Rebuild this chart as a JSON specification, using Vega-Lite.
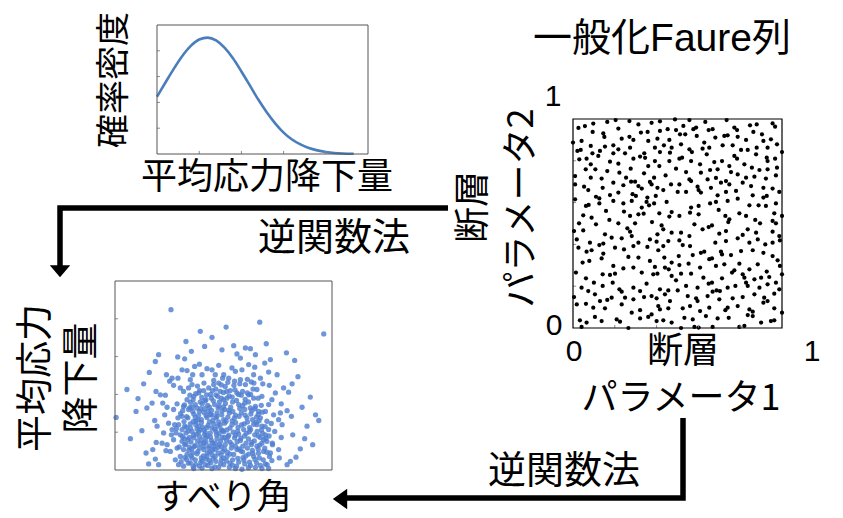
{
  "$schema": "https://vega.github.io/schema/vega-lite/v6.json",
  "width": 843,
  "height": 518,
  "autosize": {"type": "none"},
  "padding": 0,
  "background": "white",
  "config": {"view": {"stroke": null}},
  "datasets": {
    "density": [
      {"drop": 0, "density": 2.22}, {"drop": 0.2, "density": 2.77}, {"drop": 0.4, "density": 3.31}, {"drop": 0.6, "density": 3.8},
      {"drop": 0.8, "density": 4.19}, {"drop": 1.0, "density": 4.44}, {"drop": 1.2, "density": 4.51}, {"drop": 1.4, "density": 4.4},
      {"drop": 1.6, "density": 4.12}, {"drop": 1.8, "density": 3.71}, {"drop": 2.0, "density": 3.2}, {"drop": 2.2, "density": 2.66},
      {"drop": 2.4, "density": 2.11}, {"drop": 2.6, "density": 1.62}, {"drop": 2.8, "density": 1.19}, {"drop": 3.0, "density": 0.83},
      {"drop": 3.2, "density": 0.56}, {"drop": 3.4, "density": 0.37}, {"drop": 3.6, "density": 0.23}, {"drop": 3.8, "density": 0.14},
      {"drop": 4.0, "density": 0.08}, {"drop": 4.2, "density": 0.04}, {"drop": 4.4, "density": 0.02}, {"drop": 4.66, "density": 0.01}
    ],
    "ticks5": [{"t": 1}, {"t": 2}, {"t": 3}, {"t": 4}],
    "ticks1": [{"t": 0.2}, {"t": 0.4}, {"t": 0.6}, {"t": 0.8}],
    "faure": [
      {"p1":0.204,"p2":0.995},{"p1":0.27,"p2":0.99},{"p1":0.376,"p2":0.982},{"p1":0.416,"p2":0.989},{"p1":0.164,"p2":0.986},{"p1":0.097,"p2":0.978},{"p1":0.057,"p2":0.966},{"p1":0.026,"p2":0.957},{"p1":0.313,"p2":0.974},{"p1":0.488,"p2":0.998},
      {"p1":0.217,"p2":0.954},{"p1":0.094,"p2":0.938},{"p1":0.145,"p2":0.931},{"p1":0.15,"p2":0.914},{"p1":0.325,"p2":0.935},{"p1":0.357,"p2":0.938},{"p1":0.416,"p2":0.943},{"p1":0.453,"p2":0.951},{"p1":0.493,"p2":0.947},{"p1":0.233,"p2":0.906},
      {"p1":0.27,"p2":0.915},{"p1":0.041,"p2":0.895},{"p1":0.0,"p2":0.887},{"p1":0.085,"p2":0.871},{"p1":0.153,"p2":0.868},{"p1":0.193,"p2":0.874},{"p1":0.289,"p2":0.9},{"p1":0.36,"p2":0.895},{"p1":0.404,"p2":0.906},{"p1":0.461,"p2":0.9},
      {"p1":0.435,"p2":0.874},{"p1":0.021,"p2":0.847},{"p1":0.037,"p2":0.852},{"p1":0.129,"p2":0.847},{"p1":0.217,"p2":0.855},{"p1":0.273,"p2":0.863},{"p1":0.392,"p2":0.863},{"p1":0.416,"p2":0.842},{"p1":0.472,"p2":0.863},{"p1":0.093,"p2":0.836},
      {"p1":0.193,"p2":0.836},{"p1":0.249,"p2":0.836},{"p1":0.341,"p2":0.836},{"p1":0.464,"p2":0.839},{"p1":0.03,"p2":0.807},{"p1":0.065,"p2":0.81},{"p1":0.121,"p2":0.823},{"p1":0.177,"p2":0.796},{"p1":0.289,"p2":0.81},{"p1":0.321,"p2":0.82},
      {"p1":0.345,"p2":0.814},{"p1":0.392,"p2":0.799},{"p1":0.461,"p2":0.799},{"p1":0.085,"p2":0.783},{"p1":0.217,"p2":0.786},{"p1":0.276,"p2":0.762},{"p1":0.36,"p2":0.775},{"p1":0.413,"p2":0.775},{"p1":0.01,"p2":0.727},{"p1":0.061,"p2":0.759},
      {"p1":0.107,"p2":0.759},{"p1":0.164,"p2":0.751},{"p1":0.222,"p2":0.743},{"p1":0.254,"p2":0.719},{"p1":0.34,"p2":0.74},{"p1":0.388,"p2":0.719},{"p1":0.443,"p2":0.73},{"p1":0.085,"p2":0.719},{"p1":0.137,"p2":0.715},{"p1":0.193,"p2":0.695},
      {"p1":0.278,"p2":0.7},{"p1":0.297,"p2":0.7},{"p1":0.368,"p2":0.699},{"p1":0.01,"p2":0.687},{"p1":0.053,"p2":0.676},{"p1":0.142,"p2":0.671},{"p1":0.241,"p2":0.683},{"p1":0.313,"p2":0.679},{"p1":0.376,"p2":0.687},{"p1":0.404,"p2":0.671},
      {"p1":0.469,"p2":0.687},{"p1":0.073,"p2":0.66},{"p1":0.177,"p2":0.636},{"p1":0.11,"p2":0.628},{"p1":0.126,"p2":0.62},{"p1":0.217,"p2":0.648},{"p1":0.285,"p2":0.64},{"p1":0.329,"p2":0.667},{"p1":0.432,"p2":0.66},{"p1":0.01,"p2":0.616},
      {"p1":0.241,"p2":0.596},{"p1":0.301,"p2":0.632},{"p1":0.356,"p2":0.624},{"p1":0.396,"p2":0.632},{"p1":0.448,"p2":0.603},{"p1":0.062,"p2":0.584},{"p1":0.075,"p2":0.589},{"p1":0.126,"p2":0.596},{"p1":0.193,"p2":0.608},{"p1":0.281,"p2":0.608},
      {"p1":0.352,"p2":0.603},{"p1":0.388,"p2":0.596},{"p1":0.158,"p2":0.56},{"p1":0.244,"p2":0.557},{"p1":0.329,"p2":0.576},{"p1":0.364,"p2":0.587},{"p1":0.413,"p2":0.549},{"p1":0.472,"p2":0.555},{"p1":0.049,"p2":0.539},{"p1":0.089,"p2":0.528},
      {"p1":0.174,"p2":0.517},{"p1":0.273,"p2":0.536},{"p1":0.313,"p2":0.544},{"p1":0.338,"p2":0.547},{"p1":0.461,"p2":0.533},{"p1":0.029,"p2":0.501},{"p1":0.11,"p2":0.496},{"p1":0.217,"p2":0.501},{"p1":0.297,"p2":0.501},{"p1":0.378,"p2":0.507},
      {"p1":0.424,"p2":0.491},
      {"p1":0.557,"p2":0.995},{"p1":0.633,"p2":0.986},{"p1":0.735,"p2":0.995},{"p1":0.955,"p2":0.979},{"p1":0.528,"p2":0.967},{"p1":0.589,"p2":0.959},{"p1":0.576,"p2":0.951},{"p1":0.649,"p2":0.947},{"p1":0.668,"p2":0.951},{"p1":0.772,"p2":0.959},
      {"p1":0.785,"p2":0.947},{"p1":0.847,"p2":0.97},{"p1":0.879,"p2":0.974},{"p1":0.967,"p2":0.963},{"p1":0.512,"p2":0.927},{"p1":0.537,"p2":0.927},{"p1":0.592,"p2":0.919},{"p1":0.724,"p2":0.919},{"p1":0.74,"p2":0.922},{"p1":0.788,"p2":0.915},
      {"p1":0.863,"p2":0.938},{"p1":0.904,"p2":0.927},{"p1":0.681,"p2":0.911},{"p1":0.828,"p2":0.9},{"p1":0.911,"p2":0.895},{"p1":0.947,"p2":0.903},{"p1":0.976,"p2":0.879},{"p1":0.517,"p2":0.879},{"p1":0.628,"p2":0.887},{"p1":0.652,"p2":0.863},
      {"p1":0.716,"p2":0.874},{"p1":0.764,"p2":0.874},{"p1":0.557,"p2":0.855},{"p1":0.569,"p2":0.842},{"p1":0.62,"p2":0.858},{"p1":0.804,"p2":0.852},{"p1":0.836,"p2":0.852},{"p1":0.879,"p2":0.863},{"p1":0.931,"p2":0.863},{"p1":0.64,"p2":0.831},
      {"p1":0.772,"p2":0.823},{"p1":0.785,"p2":0.81},{"p1":0.509,"p2":0.81},{"p1":0.522,"p2":0.815},{"p1":0.876,"p2":0.831},{"p1":1.0,"p2":0.842},{"p1":0.565,"p2":0.799},{"p1":0.676,"p2":0.794},{"p1":0.713,"p2":0.799},{"p1":0.748,"p2":0.775},
      {"p1":0.82,"p2":0.783},{"p1":0.856,"p2":0.767},{"p1":0.927,"p2":0.815},{"p1":0.931,"p2":0.799},{"p1":0.967,"p2":0.81},{"p1":0.493,"p2":0.762},{"p1":0.541,"p2":0.746},{"p1":0.608,"p2":0.783},{"p1":0.656,"p2":0.756},{"p1":0.692,"p2":0.759},
      {"p1":0.892,"p2":0.756},{"p1":0.931,"p2":0.759},{"p1":0.976,"p2":0.767},{"p1":0.557,"p2":0.711},{"p1":0.565,"p2":0.703},{"p1":0.612,"p2":0.743},{"p1":0.644,"p2":0.711},{"p1":0.684,"p2":0.718},{"p1":0.756,"p2":0.746},{"p1":0.788,"p2":0.735},
      {"p1":0.732,"p2":0.703},{"p1":0.828,"p2":0.719},{"p1":0.868,"p2":0.724},{"p1":0.923,"p2":0.715},{"p1":0.971,"p2":0.73},{"p1":0.509,"p2":0.687},{"p1":0.596,"p2":0.676},{"p1":0.601,"p2":0.66},{"p1":0.66,"p2":0.671},{"p1":0.708,"p2":0.695},
      {"p1":0.748,"p2":0.687},{"p1":0.812,"p2":0.695},{"p1":0.852,"p2":0.679},{"p1":0.911,"p2":0.671},{"p1":0.955,"p2":0.667},{"p1":0.501,"p2":0.651},{"p1":0.541,"p2":0.651},{"p1":0.612,"p2":0.648},{"p1":0.692,"p2":0.635},{"p1":0.732,"p2":0.651},
      {"p1":0.78,"p2":0.656},{"p1":0.86,"p2":0.635},{"p1":0.911,"p2":0.624},{"p1":0.927,"p2":0.632},{"p1":0.987,"p2":0.651},{"p1":0.565,"p2":0.576},{"p1":0.601,"p2":0.584},{"p1":0.656,"p2":0.596},{"p1":0.684,"p2":0.603},{"p1":0.74,"p2":0.608},
      {"p1":0.788,"p2":0.619},{"p1":0.844,"p2":0.587},{"p1":0.888,"p2":0.587},{"p1":0.923,"p2":0.584},{"p1":0.971,"p2":0.596},{"p1":0.509,"p2":0.536},{"p1":0.56,"p2":0.552},{"p1":0.601,"p2":0.544},{"p1":0.697,"p2":0.565},{"p1":0.729,"p2":0.536},
      {"p1":0.748,"p2":0.52},{"p1":0.796,"p2":0.549},{"p1":0.828,"p2":0.536},{"p1":0.872,"p2":0.517},{"p1":0.963,"p2":0.549},{"p1":0.955,"p2":0.512},{"p1":1.0,"p2":0.536},{"p1":0.581,"p2":0.496},{"p1":0.665,"p2":0.491},{"p1":0.743,"p2":0.507},
      {"p1":0.895,"p2":0.501},{"p1":0.971,"p2":0.501},
      {"p1":0.005,"p2":0.464},{"p1":0.049,"p2":0.467},{"p1":0.153,"p2":0.448},{"p1":0.26,"p2":0.477},{"p1":0.273,"p2":0.461},{"p1":0.404,"p2":0.448},{"p1":0.432,"p2":0.472},{"p1":0.472,"p2":0.456},{"p1":0.018,"p2":0.424},{"p1":0.081,"p2":0.408},
      {"p1":0.126,"p2":0.397},{"p1":0.145,"p2":0.404},{"p1":0.185,"p2":0.432},{"p1":0.233,"p2":0.429},{"p1":0.281,"p2":0.44},{"p1":0.313,"p2":0.408},{"p1":0.368,"p2":0.424},{"p1":0.4,"p2":0.413},{"p1":0.456,"p2":0.416},{"p1":0.026,"p2":0.384},
      {"p1":0.065,"p2":0.365},{"p1":0.089,"p2":0.372},{"p1":0.145,"p2":0.356},{"p1":0.201,"p2":0.384},{"p1":0.244,"p2":0.376},{"p1":0.289,"p2":0.392},{"p1":0.356,"p2":0.388},{"p1":0.408,"p2":0.372},{"p1":0.432,"p2":0.392},{"p1":0.046,"p2":0.313},
      {"p1":0.078,"p2":0.321},{"p1":0.137,"p2":0.333},{"p1":0.193,"p2":0.297},{"p1":0.265,"p2":0.34},{"p1":0.313,"p2":0.337},{"p1":0.368,"p2":0.321},{"p1":0.437,"p2":0.337},{"p1":0.472,"p2":0.313},{"p1":0.392,"p2":0.292},{"p1":0.44,"p2":0.289},
      {"p1":0.458,"p2":0.281},{"p1":0.014,"p2":0.265},{"p1":0.062,"p2":0.238},{"p1":0.1,"p2":0.217},{"p1":0.142,"p2":0.257},{"p1":0.177,"p2":0.254},{"p1":0.201,"p2":0.26},{"p1":0.241,"p2":0.285},{"p1":0.289,"p2":0.289},{"p1":0.329,"p2":0.265},
      {"p1":0.384,"p2":0.257},{"p1":0.404,"p2":0.26},{"p1":0.472,"p2":0.249},{"p1":0.041,"p2":0.193},{"p1":0.073,"p2":0.177},{"p1":0.142,"p2":0.201},{"p1":0.19,"p2":0.217},{"p1":0.222,"p2":0.185},{"p1":0.233,"p2":0.174},{"p1":0.289,"p2":0.193},
      {"p1":0.321,"p2":0.177},{"p1":0.352,"p2":0.212},{"p1":0.416,"p2":0.185},{"p1":0.456,"p2":0.18},{"p1":0.005,"p2":0.148},{"p1":0.105,"p2":0.161},{"p1":0.164,"p2":0.134},{"p1":0.185,"p2":0.145},{"p1":0.249,"p2":0.145},{"p1":0.289,"p2":0.137},
      {"p1":0.34,"p2":0.148},{"p1":0.376,"p2":0.153},{"p1":0.4,"p2":0.142},{"p1":0.44,"p2":0.161},{"p1":0.464,"p2":0.129},{"p1":0.018,"p2":0.113},{"p1":0.062,"p2":0.116},{"p1":0.097,"p2":0.097},{"p1":0.129,"p2":0.129},{"p1":0.153,"p2":0.094},
      {"p1":0.233,"p2":0.113},{"p1":0.281,"p2":0.073},{"p1":0.321,"p2":0.085},{"p1":0.376,"p2":0.065},{"p1":0.408,"p2":0.105},{"p1":0.416,"p2":0.089},{"p1":0.456,"p2":0.094},{"p1":0.033,"p2":0.037},{"p1":0.065,"p2":0.026},{"p1":0.105,"p2":0.053},
      {"p1":0.137,"p2":0.033},{"p1":0.209,"p2":0.041},{"p1":0.225,"p2":0.03},{"p1":0.321,"p2":0.046},{"p1":0.36,"p2":0.053},{"p1":0.4,"p2":0.033},{"p1":0.432,"p2":0.037},{"p1":0.472,"p2":0.026},{"p1":0.041,"p2":0.005},{"p1":0.265,"p2":0.0},
      {"p1":0.649,"p2":0.483},{"p1":0.517,"p2":0.456},{"p1":0.557,"p2":0.44},{"p1":0.62,"p2":0.472},{"p1":0.7,"p2":0.451},{"p1":0.732,"p2":0.464},{"p1":0.812,"p2":0.445},{"p1":0.836,"p2":0.472},{"p1":0.876,"p2":0.456},{"p1":0.955,"p2":0.461},
      {"p1":0.987,"p2":0.44},{"p1":0.509,"p2":0.419},{"p1":0.525,"p2":0.397},{"p1":0.56,"p2":0.392},{"p1":0.612,"p2":0.36},{"p1":0.628,"p2":0.365},{"p1":0.681,"p2":0.408},{"p1":0.732,"p2":0.416},{"p1":0.788,"p2":0.429},{"p1":0.844,"p2":0.408},
      {"p1":0.884,"p2":0.424},{"p1":0.92,"p2":0.4},{"p1":0.955,"p2":0.408},{"p1":0.99,"p2":0.419},{"p1":0.506,"p2":0.344},{"p1":0.573,"p2":0.349},{"p1":0.652,"p2":0.329},{"p1":0.665,"p2":0.333},{"p1":0.708,"p2":0.365},{"p1":0.713,"p2":0.352},
      {"p1":0.756,"p2":0.349},{"p1":0.804,"p2":0.368},{"p1":0.86,"p2":0.372},{"p1":0.911,"p2":0.36},{"p1":0.955,"p2":0.344},{"p1":0.979,"p2":0.324},{"p1":0.509,"p2":0.301},{"p1":0.553,"p2":0.308},{"p1":0.608,"p2":0.289},{"p1":0.684,"p2":0.297},
      {"p1":0.724,"p2":0.305},{"p1":0.772,"p2":0.276},{"p1":0.796,"p2":0.308},{"p1":0.844,"p2":0.281},{"p1":0.884,"p2":0.305},{"p1":0.927,"p2":0.27},{"p1":0.99,"p2":0.297},{"p1":0.517,"p2":0.26},{"p1":0.565,"p2":0.26},{"p1":0.624,"p2":0.241},
      {"p1":0.649,"p2":0.212},{"p1":0.665,"p2":0.217},{"p1":0.713,"p2":0.238},{"p1":0.761,"p2":0.265},{"p1":0.812,"p2":0.257},{"p1":0.82,"p2":0.241},{"p1":0.868,"p2":0.233},{"p1":0.9,"p2":0.241},{"p1":0.939,"p2":0.244},{"p1":0.971,"p2":0.217},
      {"p1":1.0,"p2":0.257},{"p1":0.493,"p2":0.228},{"p1":0.541,"p2":0.201},{"p1":0.596,"p2":0.193},{"p1":0.668,"p2":0.174},{"p1":0.687,"p2":0.18},{"p1":0.703,"p2":0.177},{"p1":0.74,"p2":0.193},{"p1":0.777,"p2":0.201},{"p1":0.828,"p2":0.217},
      {"p1":0.836,"p2":0.201},{"p1":0.892,"p2":0.193},{"p1":0.931,"p2":0.209},{"p1":0.987,"p2":0.185},{"p1":0.501,"p2":0.18},{"p1":0.549,"p2":0.153},{"p1":0.589,"p2":0.142},{"p1":0.596,"p2":0.129},{"p1":0.644,"p2":0.153},{"p1":0.7,"p2":0.137},
      {"p1":0.764,"p2":0.142},{"p1":0.812,"p2":0.148},{"p1":0.868,"p2":0.161},{"p1":0.915,"p2":0.145},{"p1":0.963,"p2":0.164},{"p1":0.525,"p2":0.094},{"p1":0.56,"p2":0.105},{"p1":0.608,"p2":0.081},{"p1":0.652,"p2":0.097},{"p1":0.729,"p2":0.085},
      {"p1":0.74,"p2":0.097},{"p1":0.788,"p2":0.105},{"p1":0.844,"p2":0.089},{"p1":0.86,"p2":0.078},{"p1":0.911,"p2":0.121},{"p1":0.931,"p2":0.129},{"p1":0.963,"p2":0.094},{"p1":1.0,"p2":0.073},{"p1":0.533,"p2":0.049},{"p1":0.573,"p2":0.041},
      {"p1":0.636,"p2":0.057},{"p1":0.692,"p2":0.046},{"p1":0.745,"p2":0.049},{"p1":0.836,"p2":0.062},{"p1":0.86,"p2":0.057},{"p1":0.9,"p2":0.026},{"p1":0.947,"p2":0.033},{"p1":0.963,"p2":0.037},{"p1":0.517,"p2":0.0},{"p1":0.581,"p2":0.005},
      {"p1":0.601,"p2":0.002},{"p1":0.668,"p2":0.005},{"p1":0.796,"p2":0.005},{"p1":0.82,"p2":0.01}
    ],
    "scatter": [
      {"slip":0.258,"drop":4.24},{"slip":0.393,"drop":3.67},{"slip":0.327,"drop":3.4},{"slip":0.447,"drop":3.51},{"slip":0.352,"drop":3.14},{"slip":0.413,"drop":3.27},{"slip":0.289,"drop":2.99},{"slip":0.321,"drop":2.94},{"slip":0.201,"drop":3.05},{"slip":0.186,"drop":2.87},
      {"slip":0.158,"drop":2.58},{"slip":0.237,"drop":2.52},{"slip":0.367,"drop":2.74},{"slip":0.389,"drop":2.8},{"slip":0.055,"drop":2.13},{"slip":0.132,"drop":2.28},{"slip":0.106,"drop":1.89},{"slip":0.171,"drop":1.77},{"slip":0.147,"drop":1.64},{"slip":0.097,"drop":1.55},
      {"slip":0.005,"drop":1.39},{"slip":0.189,"drop":2.08},{"slip":0.209,"drop":1.99},{"slip":0.232,"drop":1.98},{"slip":0.252,"drop":2.35},{"slip":0.27,"drop":2.24},{"slip":0.263,"drop":2.43},{"slip":0.29,"drop":2.43},{"slip":0.309,"drop":2.65},{"slip":0.332,"drop":2.63},
      {"slip":0.347,"drop":2.39},{"slip":0.358,"drop":2.52},{"slip":0.301,"drop":2.17},{"slip":0.316,"drop":2.08},{"slip":0.339,"drop":2.17},{"slip":0.355,"drop":2.26},{"slip":0.401,"drop":2.52},{"slip":0.424,"drop":2.68},{"slip":0.447,"drop":2.65},{"slip":0.462,"drop":2.52},
      {"slip":0.478,"drop":2.77},{"slip":0.493,"drop":3.18},{"slip":0.124,"drop":1.04},{"slip":0.071,"drop":0.83},{"slip":0.194,"drop":1.16},{"slip":0.183,"drop":1.31},{"slip":0.224,"drop":0.98},{"slip":0.143,"drop":0.45},{"slip":0.174,"drop":0.54},{"slip":0.19,"drop":0.73},
      {"slip":0.217,"drop":0.71},{"slip":0.235,"drop":0.51},{"slip":0.155,"drop":0.16},{"slip":0.186,"drop":0.29},{"slip":0.201,"drop":0.14},{"slip":0.229,"drop":1.46},{"slip":0.24,"drop":1.66},{"slip":0.22,"drop":1.77},{"slip":0.27,"drop":1.6},{"slip":0.286,"drop":1.75},
      {"slip":0.316,"drop":1.68},{"slip":0.247,"drop":1.24},{"slip":0.263,"drop":1.07},{"slip":0.27,"drop":0.8},{"slip":0.278,"drop":0.27},{"slip":0.293,"drop":0.14},{"slip":0.301,"drop":0.36},{"slip":0.321,"drop":0.67},{"slip":0.347,"drop":0.19},{"slip":0.255,"drop":0.49},
      {"slip":0.286,"drop":0.58},
      {"slip":0.512,"drop":3.78},{"slip":0.667,"drop":3.91},{"slip":0.962,"drop":3.6},{"slip":0.697,"drop":3.34},{"slip":0.547,"drop":3.29},{"slip":0.601,"drop":3.23},{"slip":0.624,"drop":3.21},{"slip":0.647,"drop":3.05},{"slip":0.79,"drop":3.1},{"slip":0.562,"drop":3.07},
      {"slip":0.578,"drop":2.96},{"slip":0.716,"drop":2.92},{"slip":0.69,"drop":2.83},{"slip":0.828,"drop":2.9},{"slip":0.616,"drop":2.79},{"slip":0.644,"drop":2.72},{"slip":0.747,"drop":2.52},{"slip":0.708,"drop":2.59},{"slip":0.843,"drop":2.47},{"slip":0.816,"drop":2.28},
      {"slip":0.777,"drop":2.17},{"slip":0.8,"drop":2.06},{"slip":0.9,"drop":1.93},{"slip":0.766,"drop":1.75},{"slip":0.862,"drop":1.66},{"slip":0.793,"drop":1.57},{"slip":0.813,"drop":1.42},{"slip":0.924,"drop":1.46},{"slip":0.939,"drop":1.31},{"slip":0.885,"drop":1.16},
      {"slip":0.819,"drop":0.93},{"slip":0.874,"drop":0.83},{"slip":0.911,"drop":0.67},{"slip":0.854,"drop":0.56},{"slip":0.808,"drop":0.23},{"slip":0.793,"drop":0.14},{"slip":0.834,"drop":0.34},{"slip":0.757,"drop":0.32},{"slip":0.67,"drop":2.43},{"slip":0.681,"drop":2.28},
      {"slip":0.711,"drop":2.24},{"slip":0.739,"drop":2.04},{"slip":0.723,"drop":1.86},{"slip":0.762,"drop":1.51},{"slip":0.754,"drop":1.33},{"slip":0.77,"drop":1.2},{"slip":0.736,"drop":1.02},{"slip":0.766,"drop":0.86},{"slip":0.726,"drop":0.67},{"slip":0.754,"drop":0.54},
      {"slip":0.716,"drop":0.45},{"slip":0.693,"drop":0.16},{"slip":0.539,"drop":2.7},{"slip":0.555,"drop":2.61},{"slip":0.585,"drop":2.65},{"slip":0.639,"drop":2.52},{"slip":0.628,"drop":2.33},{"slip":0.654,"drop":2.13},{"slip":0.677,"drop":1.95},{"slip":0.708,"drop":1.73},
      {"slip":0.693,"drop":1.55},{"slip":0.731,"drop":1.46},{"slip":0.67,"drop":1.38},
      {"slip":0.332,"drop":1.86},{"slip":0.363,"drop":1.95},{"slip":0.386,"drop":2.04},{"slip":0.409,"drop":2.1},{"slip":0.432,"drop":2.17},{"slip":0.455,"drop":2.26},{"slip":0.478,"drop":2.3},{"slip":0.496,"drop":2.43},{"slip":0.339,"drop":1.6},{"slip":0.37,"drop":1.73},
      {"slip":0.393,"drop":1.8},{"slip":0.419,"drop":1.86},{"slip":0.444,"drop":1.9},{"slip":0.465,"drop":1.99},{"slip":0.485,"drop":2.08},{"slip":0.309,"drop":1.42},{"slip":0.336,"drop":1.38},{"slip":0.363,"drop":1.48},{"slip":0.389,"drop":1.55},{"slip":0.413,"drop":1.62},
      {"slip":0.435,"drop":1.66},{"slip":0.459,"drop":1.73},{"slip":0.481,"drop":1.8},{"slip":0.501,"drop":1.86},{"slip":0.293,"drop":1.2},{"slip":0.321,"drop":1.16},{"slip":0.347,"drop":1.22},{"slip":0.373,"drop":1.29},{"slip":0.398,"drop":1.33},{"slip":0.424,"drop":1.39},
      {"slip":0.447,"drop":1.45},{"slip":0.47,"drop":1.51},{"slip":0.493,"drop":1.57},{"slip":0.301,"drop":0.93},{"slip":0.327,"drop":0.98},{"slip":0.355,"drop":1.02},{"slip":0.378,"drop":1.09},{"slip":0.404,"drop":1.13},{"slip":0.429,"drop":1.18},{"slip":0.455,"drop":1.22},
      {"slip":0.478,"drop":1.27},{"slip":0.501,"drop":1.33},{"slip":0.309,"drop":0.76},{"slip":0.336,"drop":0.8},{"slip":0.363,"drop":0.85},{"slip":0.389,"drop":0.89},{"slip":0.413,"drop":0.93},{"slip":0.439,"drop":0.98},{"slip":0.465,"drop":1.02},{"slip":0.49,"drop":1.07},
      {"slip":0.316,"drop":0.54},{"slip":0.343,"drop":0.6},{"slip":0.37,"drop":0.65},{"slip":0.393,"drop":0.69},{"slip":0.419,"drop":0.74},{"slip":0.444,"drop":0.78},{"slip":0.47,"drop":0.83},{"slip":0.493,"drop":0.86},{"slip":0.332,"drop":0.41},{"slip":0.358,"drop":0.45},
      {"slip":0.382,"drop":0.49},{"slip":0.409,"drop":0.54},{"slip":0.432,"drop":0.58},{"slip":0.455,"drop":0.63},{"slip":0.481,"drop":0.67},{"slip":0.316,"drop":0.1},{"slip":0.37,"drop":0.27},{"slip":0.398,"drop":0.32},{"slip":0.424,"drop":0.36},{"slip":0.447,"drop":0.41},
      {"slip":0.475,"drop":0.45},{"slip":0.496,"drop":0.49},{"slip":0.389,"drop":0.1},{"slip":0.416,"drop":0.14},{"slip":0.441,"drop":0.19},{"slip":0.465,"drop":0.23},{"slip":0.49,"drop":0.27},{"slip":0.363,"drop":0.04},{"slip":0.447,"drop":0.04},{"slip":0.478,"drop":0.07},
      {"slip":0.26,"drop":0.93},{"slip":0.281,"drop":0.98},{"slip":0.24,"drop":0.67},{"slip":0.355,"drop":1.66},{"slip":0.29,"drop":1.38},{"slip":0.275,"drop":1.2},{"slip":0.309,"drop":1.07},{"slip":0.343,"drop":0.86},{"slip":0.312,"drop":1.57},{"slip":0.386,"drop":1.01},
      {"slip":0.41,"drop":0.63},{"slip":0.355,"drop":0.32},{"slip":0.435,"drop":0.25},{"slip":0.462,"drop":0.36},{"slip":0.382,"drop":1.33},{"slip":0.429,"drop":1.55},{"slip":0.475,"drop":1.64},{"slip":0.447,"drop":1.11},{"slip":0.419,"drop":0.85},{"slip":0.487,"drop":0.76},
      {"slip":0.401,"drop":0.05},
      {"slip":0.501,"drop":2.52},{"slip":0.524,"drop":2.43},{"slip":0.551,"drop":2.35},{"slip":0.578,"drop":2.39},{"slip":0.601,"drop":2.26},{"slip":0.508,"drop":2.21},{"slip":0.531,"drop":2.1},{"slip":0.562,"drop":2.04},{"slip":0.588,"drop":2.08},{"slip":0.616,"drop":1.99},
      {"slip":0.639,"drop":1.9},{"slip":0.516,"drop":1.9},{"slip":0.542,"drop":1.8},{"slip":0.57,"drop":1.73},{"slip":0.598,"drop":1.77},{"slip":0.624,"drop":1.64},{"slip":0.647,"drop":1.68},{"slip":0.662,"drop":1.55},{"slip":0.505,"drop":1.6},{"slip":0.527,"drop":1.51},
      {"slip":0.555,"drop":1.45},{"slip":0.582,"drop":1.51},{"slip":0.608,"drop":1.38},{"slip":0.634,"drop":1.33},{"slip":0.654,"drop":1.2},{"slip":0.677,"drop":1.16},{"slip":0.7,"drop":1.29},{"slip":0.512,"drop":1.29},{"slip":0.539,"drop":1.2},{"slip":0.567,"drop":1.13},
      {"slip":0.593,"drop":1.07},{"slip":0.619,"drop":1.01},{"slip":0.644,"drop":0.93},{"slip":0.67,"drop":0.86},{"slip":0.693,"drop":0.93},{"slip":0.708,"drop":1.07},{"slip":0.501,"drop":1.01},{"slip":0.524,"drop":0.92},{"slip":0.551,"drop":0.85},{"slip":0.578,"drop":0.78},
      {"slip":0.604,"drop":0.71},{"slip":0.628,"drop":0.67},{"slip":0.654,"drop":0.63},{"slip":0.677,"drop":0.71},{"slip":0.7,"drop":0.76},{"slip":0.508,"drop":0.67},{"slip":0.536,"drop":0.58},{"slip":0.562,"drop":0.54},{"slip":0.588,"drop":0.48},{"slip":0.616,"drop":0.42},
      {"slip":0.639,"drop":0.36},{"slip":0.665,"drop":0.32},{"slip":0.685,"drop":0.49},{"slip":0.516,"drop":0.36},{"slip":0.542,"drop":0.27},{"slip":0.57,"drop":0.21},{"slip":0.598,"drop":0.16},{"slip":0.624,"drop":0.12},{"slip":0.647,"drop":0.07},{"slip":0.677,"drop":0.04},
      {"slip":0.708,"drop":0.04},{"slip":0.723,"drop":0.25},{"slip":0.501,"drop":0.14},{"slip":0.527,"drop":0.07},{"slip":0.555,"drop":0.04},{"slip":0.585,"drop":0.02},
      {"slip":0.305,"drop":0.22},{"slip":0.338,"drop":0.18},{"slip":0.371,"drop":0.15},{"slip":0.402,"drop":0.24},{"slip":0.428,"drop":0.12},{"slip":0.452,"drop":0.31},{"slip":0.487,"drop":0.17},{"slip":0.513,"drop":0.24},{"slip":0.541,"drop":0.13},{"slip":0.566,"drop":0.31},
      {"slip":0.594,"drop":0.26},{"slip":0.62,"drop":0.21},{"slip":0.652,"drop":0.19},{"slip":0.683,"drop":0.27},{"slip":0.701,"drop":0.14},{"slip":0.322,"drop":0.33},{"slip":0.35,"drop":0.38},{"slip":0.378,"drop":0.43},{"slip":0.407,"drop":0.37},{"slip":0.437,"drop":0.48},
      {"slip":0.461,"drop":0.55},{"slip":0.489,"drop":0.39},{"slip":0.518,"drop":0.47},{"slip":0.547,"drop":0.41},{"slip":0.572,"drop":0.56},{"slip":0.603,"drop":0.37},{"slip":0.633,"drop":0.52},{"slip":0.661,"drop":0.44},{"slip":0.69,"drop":0.58},{"slip":0.712,"drop":0.36},
      {"slip":0.296,"drop":0.61},{"slip":0.327,"drop":0.69},{"slip":0.354,"drop":0.56},{"slip":0.381,"drop":0.77},{"slip":0.41,"drop":0.72},{"slip":0.434,"drop":0.64},{"slip":0.462,"drop":0.71},{"slip":0.49,"drop":0.62},{"slip":0.514,"drop":0.79},{"slip":0.538,"drop":0.68},
      {"slip":0.563,"drop":0.75},{"slip":0.589,"drop":0.63},{"slip":0.615,"drop":0.82},{"slip":0.642,"drop":0.77},{"slip":0.667,"drop":0.66},{"slip":0.695,"drop":0.84},{"slip":0.725,"drop":0.71},{"slip":0.311,"drop":0.88},{"slip":0.338,"drop":1.03},{"slip":0.362,"drop":0.92},
      {"slip":0.391,"drop":1.06},{"slip":0.416,"drop":0.99},{"slip":0.44,"drop":0.87},{"slip":0.468,"drop":0.93},{"slip":0.495,"drop":1.04},{"slip":0.521,"drop":0.88},{"slip":0.545,"drop":1.0},{"slip":0.57,"drop":0.95},{"slip":0.597,"drop":0.9},{"slip":0.625,"drop":1.07},
      {"slip":0.655,"drop":1.02},{"slip":0.68,"drop":0.97},{"slip":0.71,"drop":0.9},{"slip":0.283,"drop":1.1},{"slip":0.318,"drop":1.28},{"slip":0.348,"drop":1.11},{"slip":0.372,"drop":1.2},{"slip":0.398,"drop":1.25},{"slip":0.423,"drop":1.12},{"slip":0.451,"drop":1.31},
      {"slip":0.474,"drop":1.16},{"slip":0.505,"drop":1.24},{"slip":0.53,"drop":1.11},{"slip":0.556,"drop":1.25},{"slip":0.583,"drop":1.19},{"slip":0.61,"drop":1.27},{"slip":0.639,"drop":1.21},{"slip":0.664,"drop":1.3},{"slip":0.692,"drop":1.15},{"slip":0.72,"drop":1.23},
      {"slip":0.302,"drop":1.49},{"slip":0.33,"drop":1.41},{"slip":0.358,"drop":1.55},{"slip":0.385,"drop":1.44},{"slip":0.41,"drop":1.52},{"slip":0.44,"drop":1.47},{"slip":0.466,"drop":1.38},{"slip":0.492,"drop":1.46},{"slip":0.52,"drop":1.4},{"slip":0.543,"drop":1.55},
      {"slip":0.572,"drop":1.42},{"slip":0.598,"drop":1.6},{"slip":0.626,"drop":1.48},{"slip":0.652,"drop":1.4},{"slip":0.679,"drop":1.53},{"slip":0.32,"drop":1.72},{"slip":0.348,"drop":1.79},{"slip":0.377,"drop":1.64},{"slip":0.402,"drop":1.75},{"slip":0.427,"drop":1.71},
      {"slip":0.453,"drop":1.83},{"slip":0.48,"drop":1.69},{"slip":0.509,"drop":1.76},{"slip":0.533,"drop":1.66},{"slip":0.56,"drop":1.84},{"slip":0.588,"drop":1.7},{"slip":0.615,"drop":1.8},{"slip":0.645,"drop":1.62},{"slip":0.674,"drop":1.71},{"slip":0.345,"drop":1.98},
      {"slip":0.372,"drop":2.02},{"slip":0.4,"drop":1.92},{"slip":0.422,"drop":1.99},{"slip":0.449,"drop":2.1},{"slip":0.473,"drop":1.95},{"slip":0.5,"drop":2.05},{"slip":0.526,"drop":1.96},{"slip":0.553,"drop":2.12},{"slip":0.582,"drop":1.98},{"slip":0.61,"drop":2.04},
      {"slip":0.636,"drop":2.14},{"slip":0.66,"drop":1.9},{"slip":0.38,"drop":2.22},{"slip":0.41,"drop":2.3},{"slip":0.455,"drop":2.37},{"slip":0.49,"drop":2.25},{"slip":0.52,"drop":2.32},{"slip":0.548,"drop":2.24},{"slip":0.575,"drop":2.28},{"slip":0.61,"drop":2.4},
      {"slip":0.64,"drop":2.3},
      {"slip":0.33,"drop":0.28},{"slip":0.36,"drop":0.09},{"slip":0.395,"drop":0.2},{"slip":0.42,"drop":0.29},{"slip":0.46,"drop":0.08},{"slip":0.5,"drop":0.31},{"slip":0.53,"drop":0.18},{"slip":0.56,"drop":0.1},{"slip":0.59,"drop":0.33},{"slip":0.615,"drop":0.06},
      {"slip":0.645,"drop":0.28},{"slip":0.67,"drop":0.12},{"slip":0.34,"drop":0.52},{"slip":0.365,"drop":0.62},{"slip":0.39,"drop":0.58},{"slip":0.425,"drop":0.45},{"slip":0.45,"drop":0.53},{"slip":0.475,"drop":0.6},{"slip":0.505,"drop":0.55},{"slip":0.53,"drop":0.42},
      {"slip":0.555,"drop":0.63},{"slip":0.58,"drop":0.5},{"slip":0.61,"drop":0.58},{"slip":0.635,"drop":0.44},{"slip":0.66,"drop":0.55},{"slip":0.7,"drop":0.47},{"slip":0.32,"drop":0.83},{"slip":0.35,"drop":0.74},{"slip":0.375,"drop":0.95},{"slip":0.4,"drop":0.8},
      {"slip":0.425,"drop":0.9},{"slip":0.45,"drop":0.72},{"slip":0.48,"drop":0.96},{"slip":0.505,"drop":0.86},{"slip":0.53,"drop":0.74},{"slip":0.555,"drop":0.92},{"slip":0.58,"drop":0.84},{"slip":0.605,"drop":0.97},{"slip":0.63,"drop":0.73},{"slip":0.66,"drop":0.9},
      {"slip":0.685,"drop":0.8},{"slip":0.33,"drop":1.13},{"slip":0.36,"drop":1.28},{"slip":0.385,"drop":1.16},{"slip":0.41,"drop":1.05},{"slip":0.435,"drop":1.27},{"slip":0.46,"drop":1.08},{"slip":0.485,"drop":1.2},{"slip":0.515,"drop":1.06},{"slip":0.54,"drop":1.3},
      {"slip":0.565,"drop":1.03},{"slip":0.595,"drop":1.22},{"slip":0.62,"drop":1.12},{"slip":0.65,"drop":1.26},{"slip":0.675,"drop":1.06},{"slip":0.345,"drop":1.65},{"slip":0.37,"drop":1.39},{"slip":0.395,"drop":1.62},{"slip":0.42,"drop":1.44},{"slip":0.445,"drop":1.58},
      {"slip":0.47,"drop":1.42},{"slip":0.5,"drop":1.67},{"slip":0.525,"drop":1.58},{"slip":0.55,"drop":1.37},{"slip":0.575,"drop":1.63},{"slip":0.6,"drop":1.45},{"slip":0.63,"drop":1.57},{"slip":0.66,"drop":1.47},{"slip":0.36,"drop":1.86},{"slip":0.39,"drop":2.1},
      {"slip":0.415,"drop":1.83},{"slip":0.44,"drop":2.0},{"slip":0.465,"drop":2.14},{"slip":0.49,"drop":1.9},{"slip":0.515,"drop":2.08},{"slip":0.54,"drop":1.93},{"slip":0.57,"drop":2.0},{"slip":0.6,"drop":1.87},{"slip":0.625,"drop":2.0}
    ],
    "arrows": [
      {"arrow": "a1", "step": 1, "gx": 448, "gy": 208}, {"arrow": "a1", "step": 2, "gx": 60, "gy": 208}, {"arrow": "a1", "step": 3, "gx": 60, "gy": 266},
      {"arrow": "a2", "step": 1, "gx": 683, "gy": 418}, {"arrow": "a2", "step": 2, "gx": 683, "gy": 498}, {"arrow": "a2", "step": 3, "gx": 346, "gy": 498}
    ],
    "heads": [
      {"dir": "down", "gx": 60, "gy": 271}, {"dir": "left", "gx": 340, "gy": 499}
    ],
    "texts": [
      {"kind": "method", "label": "逆関数法", "gx": 334, "gy": 239},
      {"kind": "method", "label": "逆関数法", "gx": 564, "gy": 472},
      {"kind": "heading", "label": "一般化Faure列", "gx": 662, "gy": 39},
      {"kind": "h36", "label": "平均応力降下量", "gx": 267, "gy": 178},
      {"kind": "h36", "label": "断層", "gx": 683, "gy": 352},
      {"kind": "h36", "label": "パラメータ1", "gx": 681, "gy": 399},
      {"kind": "h35", "label": "すべり角", "gx": 223, "gy": 498},
      {"kind": "v34", "label": "確率密度", "gx": 115, "gy": 80},
      {"kind": "v36", "label": "断層", "gx": 474, "gy": 207},
      {"kind": "v36", "label": "パラメータ2", "gx": 522, "gy": 208},
      {"kind": "v37", "label": "平均応力", "gx": 37, "gy": 378},
      {"kind": "v37", "label": "降下量", "gx": 83, "gy": 378},
      {"kind": "num", "label": "1", "gx": 553, "gy": 97},
      {"kind": "num", "label": "0", "gx": 554, "gy": 326},
      {"kind": "num", "label": "0", "gx": 574, "gy": 352},
      {"kind": "num", "label": "1", "gx": 812, "gy": 352}
    ]
  },
  "resolve": {"scale": {"x": "independent", "y": "independent"}},
  "layer": [
    {
      "layer": [
        {
          "data": {"name": "density"},
          "mark": {"type": "line", "color": "#4a7ebb", "strokeWidth": 2.6, "interpolate": "monotone"},
          "encoding": {
            "x": {"field": "drop", "type": "quantitative", "scale": {"domain": [0, 5], "range": [157, 368], "nice": false, "zero": false}, "axis": null},
            "y": {"field": "density", "type": "quantitative", "scale": {"domain": [0, 5], "range": [154, 25], "nice": false, "zero": false}, "axis": null}
          }
        },
        {
          "data": {"name": "ticks5"},
          "mark": {"type": "rule", "color": "#8c8c8c", "strokeWidth": 1},
          "encoding": {
            "y": {"field": "t", "type": "quantitative", "scale": {"domain": [0, 5], "range": [154, 25], "nice": false, "zero": false}, "axis": null},
            "x": {"datum": 0, "type": "quantitative", "scale": {"domain": [0, 5], "range": [157, 368], "nice": false, "zero": false}, "axis": null},
            "x2": {"datum": 0.07}
          }
        },
        {
          "data": {"name": "ticks5"},
          "mark": {"type": "rule", "color": "#8c8c8c", "strokeWidth": 1},
          "encoding": {
            "x": {"field": "t", "type": "quantitative", "scale": {"domain": [0, 5], "range": [157, 368], "nice": false, "zero": false}, "axis": null},
            "y": {"datum": 0, "type": "quantitative", "scale": {"domain": [0, 5], "range": [154, 25], "nice": false, "zero": false}, "axis": null},
            "y2": {"datum": 0.12}
          }
        },
        {
          "data": {"values": [{}]},
          "mark": {"type": "rect", "fill": "transparent", "stroke": "#555555", "strokeWidth": 1},
          "encoding": {
            "x": {"datum": 0, "type": "quantitative", "scale": {"domain": [0, 5], "range": [157, 368], "nice": false, "zero": false}, "axis": null},
            "x2": {"datum": 5},
            "y": {"datum": 0, "type": "quantitative", "scale": {"domain": [0, 5], "range": [154, 25], "nice": false, "zero": false}, "axis": null},
            "y2": {"datum": 5}
          }
        }
      ]
    },
    {
      "layer": [
        {
          "data": {"name": "faure"},
          "mark": {"type": "circle", "size": 18, "color": "black", "opacity": 1},
          "encoding": {
            "x": {"field": "p1", "type": "quantitative", "scale": {"domain": [0, 1], "range": [573, 782], "nice": false, "zero": false}, "axis": null},
            "y": {"field": "p2", "type": "quantitative", "scale": {"domain": [0, 1], "range": [328, 119], "nice": false, "zero": false}, "axis": null}
          }
        },
        {
          "data": {"name": "ticks1"},
          "mark": {"type": "rule", "color": "#8c8c8c", "strokeWidth": 1},
          "encoding": {
            "y": {"field": "t", "type": "quantitative", "scale": {"domain": [0, 1], "range": [328, 119], "nice": false, "zero": false}, "axis": null},
            "x": {"datum": 0, "type": "quantitative", "scale": {"domain": [0, 1], "range": [573, 782], "nice": false, "zero": false}, "axis": null},
            "x2": {"datum": 0.015}
          }
        },
        {
          "data": {"name": "ticks1"},
          "mark": {"type": "rule", "color": "#8c8c8c", "strokeWidth": 1},
          "encoding": {
            "x": {"field": "t", "type": "quantitative", "scale": {"domain": [0, 1], "range": [573, 782], "nice": false, "zero": false}, "axis": null},
            "y": {"datum": 0, "type": "quantitative", "scale": {"domain": [0, 1], "range": [328, 119], "nice": false, "zero": false}, "axis": null},
            "y2": {"datum": 0.015}
          }
        },
        {
          "data": {"values": [{}]},
          "mark": {"type": "rect", "fill": "transparent", "stroke": "black", "strokeWidth": 1.2},
          "encoding": {
            "x": {"datum": 0, "type": "quantitative", "scale": {"domain": [0, 1], "range": [573, 782], "nice": false, "zero": false}, "axis": null},
            "x2": {"datum": 1},
            "y": {"datum": 0, "type": "quantitative", "scale": {"domain": [0, 1], "range": [328, 119], "nice": false, "zero": false}, "axis": null},
            "y2": {"datum": 1}
          }
        }
      ]
    },
    {
      "layer": [
        {
          "data": {"name": "scatter"},
          "mark": {"type": "circle", "size": 28, "color": "#4f7fd1", "opacity": 0.82},
          "encoding": {
            "x": {"field": "slip", "type": "quantitative", "scale": {"domain": [0, 1], "range": [115, 332], "nice": false, "zero": false}, "axis": null},
            "y": {"field": "drop", "type": "quantitative", "scale": {"domain": [0, 5], "range": [470, 281], "nice": false, "zero": false}, "axis": null}
          }
        },
        {
          "data": {"name": "ticks5"},
          "mark": {"type": "rule", "color": "#8c8c8c", "strokeWidth": 1},
          "encoding": {
            "y": {"field": "t", "type": "quantitative", "scale": {"domain": [0, 5], "range": [470, 281], "nice": false, "zero": false}, "axis": null},
            "x": {"datum": 0, "type": "quantitative", "scale": {"domain": [0, 1], "range": [115, 332], "nice": false, "zero": false}, "axis": null},
            "x2": {"datum": 0.014}
          }
        },
        {
          "data": {"values": [{}]},
          "mark": {"type": "rect", "fill": "transparent", "stroke": "#555555", "strokeWidth": 1},
          "encoding": {
            "x": {"datum": 0, "type": "quantitative", "scale": {"domain": [0, 1], "range": [115, 332], "nice": false, "zero": false}, "axis": null},
            "x2": {"datum": 1},
            "y": {"datum": 0, "type": "quantitative", "scale": {"domain": [0, 5], "range": [470, 281], "nice": false, "zero": false}, "axis": null},
            "y2": {"datum": 5}
          }
        }
      ]
    },
    {
      "encoding": {
        "x": {"field": "gx", "type": "quantitative", "scale": {"domain": [0, 843], "range": [0, 843], "nice": false, "zero": false}, "axis": null},
        "y": {"field": "gy", "type": "quantitative", "scale": {"domain": [0, 518], "range": [0, 518], "nice": false, "zero": false}, "axis": null}
      },
      "layer": [
        {
          "data": {"name": "arrows"},
          "mark": {"type": "line", "color": "black", "strokeWidth": 5.5, "strokeJoin": "miter", "strokeCap": "butt"},
          "encoding": {
            "detail": {"field": "arrow"},
            "order": {"field": "step", "type": "quantitative"}
          }
        },
        {
          "data": {"name": "heads"},
          "mark": {"type": "point", "filled": true, "color": "black", "opacity": 1, "size": 420},
          "encoding": {
            "shape": {"field": "dir", "type": "nominal", "legend": null,
                      "scale": {"domain": ["down", "left"], "range": ["M-1,-0.55L1,-0.55L0,0.6Z", "M0.7,-1L0.7,1L-0.7,0Z"]}}
          }
        },
        {
          "data": {"name": "texts"},
          "transform": [{"filter": "datum.kind == 'method'"}],
          "mark": {"type": "text", "font": "Noto Sans CJK JP", "fontSize": 38, "color": "black", "align": "center", "baseline": "middle"},
          "encoding": {"text": {"field": "label"}}
        },
        {
          "data": {"name": "texts"},
          "transform": [{"filter": "datum.kind == 'heading'"}],
          "mark": {"type": "text", "font": "Liberation Sans, Noto Sans CJK JP", "fontSize": 39, "color": "black", "align": "center", "baseline": "middle"},
          "encoding": {"text": {"field": "label"}}
        },
        {
          "data": {"name": "texts"},
          "transform": [{"filter": "datum.kind == 'h36'"}],
          "mark": {"type": "text", "font": "Noto Sans CJK JP", "fontSize": 36, "color": "black", "align": "center", "baseline": "middle"},
          "encoding": {"text": {"field": "label"}}
        },
        {
          "data": {"name": "texts"},
          "transform": [{"filter": "datum.kind == 'h35'"}],
          "mark": {"type": "text", "font": "Noto Sans CJK JP", "fontSize": 35, "color": "black", "align": "center", "baseline": "middle"},
          "encoding": {"text": {"field": "label"}}
        },
        {
          "data": {"name": "texts"},
          "transform": [{"filter": "datum.kind == 'v34'"}],
          "mark": {"type": "text", "font": "Noto Sans CJK JP", "fontSize": 34, "color": "black", "align": "center", "baseline": "middle", "angle": 270},
          "encoding": {"text": {"field": "label"}}
        },
        {
          "data": {"name": "texts"},
          "transform": [{"filter": "datum.kind == 'v36'"}],
          "mark": {"type": "text", "font": "Noto Sans CJK JP", "fontSize": 36, "color": "black", "align": "center", "baseline": "middle", "angle": 270},
          "encoding": {"text": {"field": "label"}}
        },
        {
          "data": {"name": "texts"},
          "transform": [{"filter": "datum.kind == 'v37'"}],
          "mark": {"type": "text", "font": "Noto Sans CJK JP", "fontSize": 37, "color": "black", "align": "center", "baseline": "middle", "angle": 270},
          "encoding": {"text": {"field": "label"}}
        },
        {
          "data": {"name": "texts"},
          "transform": [{"filter": "datum.kind == 'num'"}],
          "mark": {"type": "text", "font": "Liberation Sans", "fontSize": 30, "color": "black", "align": "center", "baseline": "middle"},
          "encoding": {"text": {"field": "label"}}
        }
      ]
    }
  ]
}
